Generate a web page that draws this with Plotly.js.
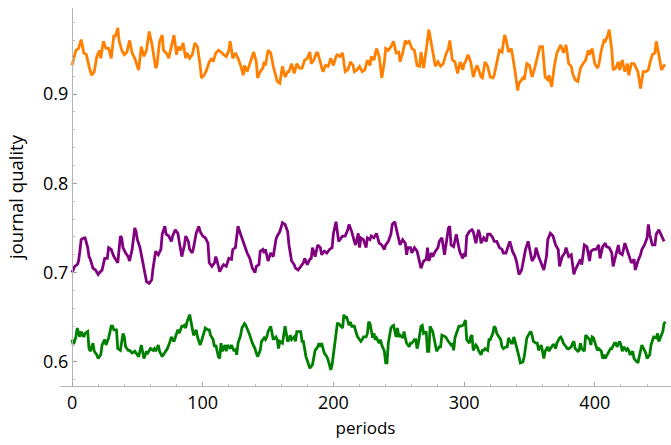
<!DOCTYPE html>
<html>
<head>
<meta charset="utf-8">
<script src="https://cdn.plot.ly/plotly-3.0.1.min.js"></script>
<style>html,body{margin:0;padding:0;background:#fff;}#chart{width:671px;height:445px;}</style>
</head>
<body>
<div id="chart"></div>
<script>
const orangePeriods = [0,3,5,7,9,11,13,15,17,19,21,22,24,26,28,30,32,33,35,36,38,40,42,44,46,48,50,51,53,55,57,59,61,62,64,65,67,69,70,73,74,76,78,80,81,83,85,87,88,90,92,94,96,98,99,101,103,105,107,108,110,112,114,116,118,120,121,123,125,127,129,131,132,134,136,138,139,141,142,144,146,147,
148,150,152,154,156,157,159,161,163,165,166,168,170,172,174,176,178,180,182,183,185,187,188,190,192,194,196,198,200,202,203,205,207,209,211,213,215,216,218,220,222,224,226,228,229,231,233,235,237,239,240,242,244,246,248,250,251,253,255,256,258,260,262,264,266,267,269,271,273,274,276,278,280,282,284,286,288,289,291,293,295,297,299,300,
301,303,305,307,309,310,313,314,316,318,320,322,323,325,327,329,331,332,334,336,337,339,341,342,345,346,348,350,352,354,356,358,360,362,364,365,367,369,371,373,374,376,378,380,382,383,385,387,389,391,393,395,396,398,400,402,403,405,407,408,410,411,413,414,416,418,419,421,423,425,426,428,430,431,433,435,437,439,441,442,444,446,447,449,451,453,454];
const orangeQuality = [.932,.949,.951,.961,.946,.944,.931,.921,.925,.942,.949,.940,.959,.951,.951,.940,.966,.964,.974,.960,.949,.944,.947,.960,.946,.940,.931,.927,.953,.942,.949,.970,.957,.947,.929,.932,.959,.966,.949,.944,.940,.953,.966,.944,.953,.949,.957,.940,.946,.940,.944,.957,.953,.932,.918,.921,.927,.936,.940,.936,.946,.949,.947,.944,.942,.949,.959,.940,.946,.940,.932,.921,.932,.925,.934,.944,.947,.936,.918,.925,.929,.936,
.932,.949,.946,.931,.918,.914,.912,.931,.919,.925,.925,.934,.923,.934,.929,.929,.938,.940,.947,.934,.938,.946,.946,.936,.925,.932,.931,.940,.932,.942,.944,.942,.946,.925,.927,.936,.932,.925,.927,.931,.925,.927,.938,.932,.942,.938,.951,.942,.918,.936,.951,.949,.953,.959,.946,.947,.936,.946,.960,.957,.959,.951,.949,.932,.931,.947,.929,.949,.972,.964,.946,.931,.936,.931,.934,.944,.951,.960,.938,.936,.923,.936,.927,.934,
.936,.944,.936,.919,.929,.932,.919,.918,.936,.931,.919,.918,.921,.936,.949,.947,.966,.962,.947,.951,.944,.925,.904,.912,.918,.916,.934,.932,.919,.929,.940,.953,.953,.919,.916,.921,.908,.931,.946,.951,.955,.946,.955,.934,.931,.923,.916,.914,.929,.934,.938,.949,.944,.951,.934,.929,.932,.949,.960,.959,.966,.972,.949,.927,.929,.936,.927,.938,.925,.934,.921,.934,.934,.931,.925,.906,.925,.925,.927,.934,.944,.946,.959,.944,.927,.932,.931];

const purplePeriods = [0,2,4,5,6,7,9,10,12,13,14,16,18,20,21,23,25,27,28,30,32,33,35,37,38,39,41,43,44,46,48,49,50,52,54,55,57,59,61,62,63,64,66,68,69,71,72,74,76,77,79,81,82,84,86,87,89,90,92,93,95,97,98,100,102,104,105,107,109,110,111,113,115,116,118,120,122,123,125,126,127,129,131,132,134,136,138,140,141,143,144,146,147,
148,150,152,154,156,157,159,161,163,165,166,168,170,171,173,175,177,178,180,182,183,184,186,188,190,191,193,195,197,199,200,202,203,204,206,207,209,211,212,214,216,217,219,220,221,223,225,226,228,229,231,233,235,237,239,240,242,244,245,247,248,250,251,253,255,256,257,259,260,262,264,265,267,269,271,272,273,275,276,278,280,281,283,285,286,288,289,290,292,294,296,297,299,300,
301,302,304,306,307,309,311,312,313,315,317,318,320,322,323,325,327,329,330,332,334,335,337,339,340,342,344,345,347,349,350,352,354,355,357,359,361,363,364,366,368,370,372,373,375,377,378,380,382,384,385,387,389,390,392,394,396,397,399,401,403,404,406,408,409,411,413,414,416,418,419,421,423,424,426,428,430,431,433,435,436,438,440,441,442,444,446,447,449,451,453];
const purpleQuality = [.700,.707,.709,.713,.724,.737,.739,.739,.728,.718,.715,.705,.703,.698,.700,.703,.716,.716,.728,.726,.718,.716,.711,.741,.739,.728,.722,.718,.713,.726,.750,.746,.737,.728,.713,.703,.690,.688,.692,.705,.718,.724,.720,.726,.743,.752,.743,.741,.735,.741,.748,.744,.735,.718,.731,.741,.735,.726,.722,.728,.744,.752,.746,.741,.739,.733,.711,.707,.711,.718,.713,.701,.707,.709,.707,.716,.715,.726,.728,.743,.752,.743,.735,.729,.722,.716,.705,.700,.707,.709,.724,.726,.722,
.726,.713,.722,.718,.737,.741,.746,.756,.754,.746,.731,.713,.709,.705,.703,.707,.711,.716,.709,.715,.716,.728,.718,.731,.728,.720,.724,.722,.726,.728,.744,.757,.748,.735,.739,.741,.741,.748,.754,.746,.735,.731,.744,.728,.739,.737,.728,.739,.737,.741,.739,.744,.733,.731,.726,.731,.735,.743,.754,.757,.750,.739,.731,.737,.733,.720,.728,.728,.722,.728,.724,.718,.705,.713,.715,.728,.713,.722,.718,.724,.728,.735,.739,.720,.731,.750,.752,.731,.729,.743,.728,.722,.716,.722,
.718,.741,.746,.748,.746,.733,.748,.743,.733,.739,.735,.743,.743,.739,.735,.735,.728,.726,.722,.722,.731,.735,.724,.718,.713,.698,.703,.711,.726,.735,.728,.713,.718,.728,.718,.711,.703,.718,.737,.744,.741,.731,.726,.707,.718,.722,.728,.718,.720,.698,.703,.709,.715,.709,.731,.729,.713,.724,.726,.726,.731,.716,.729,.733,.729,.728,.722,.707,.720,.731,.722,.720,.733,.729,.720,.711,.715,.703,.713,.720,.726,.731,.739,.754,.743,.731,.731,.743,.748,.741,.735];

const greenPeriods = [0,1,3,4,6,7,9,10,12,13,14,16,17,19,20,22,23,25,26,28,30,31,32,34,35,37,39,40,41,43,44,46,48,49,50,51,53,54,55,57,58,60,62,63,64,66,67,69,70,72,73,75,76,78,79,81,82,84,85,86,87,88,90,91,93,94,95,96,98,99,101,102,104,105,106,108,109,110,112,113,114,115,117,118,119,121,122,124,125,126,127,129,130,132,133,135,136,138,140,141,142,144,145,147,
148,149,150,152,153,154,156,157,158,159,161,162,163,165,166,167,168,170,171,172,173,175,176,177,179,180,181,182,184,185,186,188,189,190,191,193,194,195,196,198,199,200,202,203,204,205,207,208,209,210,212,213,214,216,217,218,219,221,222,223,225,226,227,228,230,231,232,233,235,236,237,239,240,241,242,244,245,246,248,249,250,251,253,254,255,256,258,259,260,262,263,264,265,267,268,269,271,272,273,274,276,277,278,279,281,282,283,285,286,287,288,290,291,292,293,295,296,297,299,300,
301,302,304,305,306,307,309,310,311,313,314,315,316,318,319,320,322,323,324,325,327,328,329,330,332,333,334,336,337,338,339,341,342,343,345,346,347,348,350,351,352,353,355,356,357,359,360,361,362,364,365,366,368,369,370,371,373,374,375,376,378,379,380,382,383,384,385,387,388,389,390,392,393,394,396,397,398,399,401,402,403,405,406,407,408,410,411,412,413,415,416,417,419,420,421,422,424,425,426,427,429,430,431,433,434,435,436,438,439,440,442,443,444,445,447,448,449,451,452,453,454];
const greenQuality = [.625,.619,.628,.638,.628,.634,.628,.632,.634,.615,.612,.621,.612,.608,.604,.608,.619,.625,.619,.627,.640,.640,.636,.636,.615,.613,.632,.628,.617,.613,.613,.610,.612,.610,.608,.606,.619,.610,.604,.612,.610,.615,.613,.615,.612,.619,.612,.606,.608,.612,.615,.623,.628,.623,.628,.636,.632,.640,.640,.641,.638,.645,.653,.645,.630,.632,.636,.628,.619,.623,.634,.638,.636,.636,.630,.625,.617,.619,.606,.604,.621,.612,.619,.612,.619,.615,.619,.612,.615,.608,.621,.630,.638,.643,.641,.634,.630,.621,.615,.610,.606,.613,.623,.627,
.625,.628,.634,.640,.632,.625,.628,.625,.615,.623,.621,.630,.640,.623,.625,.630,.625,.628,.623,.634,.634,.634,.623,.623,.606,.602,.599,.593,.597,.606,.613,.617,.621,.617,.621,.610,.608,.606,.602,.591,.597,.608,.630,.643,.643,.641,.638,.653,.649,.651,.641,.645,.640,.640,.634,.630,.627,.623,.625,.628,.628,.632,.645,.643,.627,.632,.625,.627,.621,.625,.619,.612,.599,.599,.621,.638,.640,.641,.628,.638,.628,.630,.627,.634,.627,.621,.617,.621,.621,.625,.625,.615,.621,.640,.641,.632,.634,.612,.612,.640,.634,.625,.617,.612,.617,.617,.630,.628,.628,.625,.623,.619,.621,.613,.627,.636,.640,.640,.641,.643,
.647,.625,.621,.628,.630,.613,.619,.617,.613,.608,.613,.613,.615,.613,.625,.625,.632,.640,.638,.632,.628,.625,.617,.615,.617,.617,.627,.621,.621,.628,.623,.613,.606,.599,.600,.606,.617,.627,.632,.634,.630,.623,.621,.621,.613,.619,.612,.604,.612,.617,.612,.615,.619,.619,.615,.621,.627,.628,.625,.621,.617,.615,.615,.617,.621,.623,.615,.612,.613,.621,.615,.612,.630,.628,.625,.619,.628,.627,.619,.613,.615,.612,.604,.608,.604,.610,.613,.615,.615,.621,.621,.617,.623,.619,.612,.617,.613,.615,.613,.608,.612,.604,.602,.599,.606,.615,.619,.613,.610,.604,.608,.619,.625,.628,.627,.632,.623,.632,.634,.643,.645];

const xTickValues = [0, 100, 200, 300, 400];
const yTickValues = [0.6, 0.7, 0.8, 0.9];

const series = [
  {x: orangePeriods, y: orangeQuality, color: '#FF8000'},
  {x: purplePeriods, y: purpleQuality, color: '#800080'},
  {x: greenPeriods, y: greenQuality, color: '#008000'}
];

const traces = series.map(s => ({
  type: 'scatter', mode: 'lines', x: s.x, y: s.y,
  line: {color: s.color, width: 2.8, shape: 'linear'},
  hoverinfo: 'skip'
}));

const fontFamily = '"Open Sans", "DejaVu Sans", sans-serif';
const layout = {
  width: 671, height: 445,
  margin: {l: 60, r: 0, t: 8, b: 59, pad: 0},
  paper_bgcolor: '#ffffff', plot_bgcolor: '#ffffff',
  showlegend: false,
  font: {family: fontFamily, size: 17, color: '#000000'},
  xaxis: {
    range: [-9.2, 458.3], tickvals: xTickValues, ticks: 'inside', ticklen: 4, tickwidth: 1, tickcolor: '#a0a0a0',
    showline: true, linecolor: '#b4b4b4', linewidth: 1, showgrid: false, zeroline: false,
    minor: {tick0: 0, dtick: 20, ticks: 'inside', ticklen: 2, tickcolor: '#c0c0c0', showgrid: false},
    tickfont: {family: fontFamily, size: 18, color: '#000'},
    title: {text: 'periods', font: {family: fontFamily, size: 17, color: '#000'}, standoff: 9}
  },
  yaxis: {
    range: [0.5731, 0.9963], anchor: 'free', position: 0.0196,
    tickvals: yTickValues, tickformat: '.1f', ticks: 'inside', ticklen: 4, tickwidth: 1, tickcolor: '#a0a0a0',
    showline: true, linecolor: '#b4b4b4', linewidth: 1, showgrid: false, zeroline: false,
    minor: {tick0: 0.6, dtick: 0.02, ticks: 'inside', ticklen: 2, tickcolor: '#c0c0c0', showgrid: false},
    tickfont: {family: fontFamily, size: 18, color: '#000'},
    title: {text: 'journal quality', font: {family: fontFamily, size: 18.5, color: '#000'}, standoff: 13}
  }
};

Plotly.newPlot('chart', traces, layout, {staticPlot: true, displayModeBar: false});
</script>
</body>
</html>
